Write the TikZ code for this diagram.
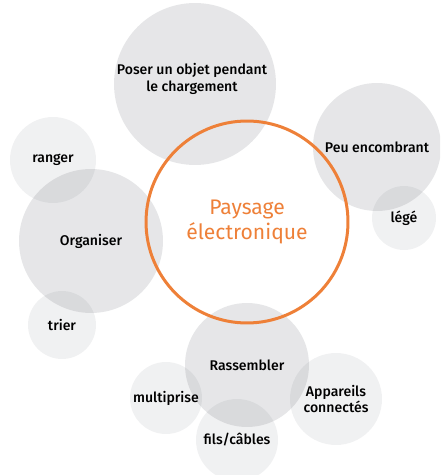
\documentclass[tikz,border=0pt]{standalone}
\usepackage{fontspec}
\setmainfont{Fira Sans}[BoldFont={Fira Sans Medium}]
\usepackage{xcolor}
\definecolor{bubble}{RGB}{60,64,78}
\definecolor{paysorange}{RGB}{238,128,56}

\tikzset{
    bigbubble/.style={circle,fill=bubble,fill opacity=0.13,text opacity=1,inner sep=0pt,align=center,font=\fontsize{8}{9.5}\selectfont\bfseries},
    smallbubble/.style={bigbubble,fill opacity=0.075},
}

\begin{document}
\begin{tikzpicture}[x=0.02cm,y=-0.02cm]
    \useasboundingbox (0,0) rectangle (440,475);
    \clip (0,0) rectangle (440,475);

    \node[bigbubble,minimum size=3.24cm] (poser) at (195,84) {};
    \node[bigbubble,minimum size=2.56cm] (peu) at (377,147) {Peu encombrant};
    \node[smallbubble,minimum size=1.28cm] (lege) at (404,218) {légé};
    \node[smallbubble,minimum size=1.72cm] (ranger) at (53,160) {ranger};
    \node[bigbubble,minimum size=2.88cm] (organiser) at (91,241) {Organiser};
    \node[smallbubble,minimum size=1.36cm] (trier) at (62,325) {trier};
    \node[bigbubble,minimum size=2.48cm] (rassembler) at (247,365) {Rassembler};
    \node[smallbubble,minimum size=1.44cm] (multiprise) at (166,398) {multiprise};
    \node[smallbubble,minimum size=1.84cm] (appareils) at (336,399) {Appareils\\connectés};
    \node[smallbubble,minimum size=1.64cm] (fils) at (237,440) {fils/câbles};
    \node[font=\fontsize{8}{9.5}\selectfont\bfseries,align=center] (posertext) at (192,79) {Poser un objet pendant\\le chargement};

    \node[circle,draw=paysorange,line width=0.06cm,minimum size=4.04cm,
        font=\fontsize{12}{13.7}\selectfont,text=paysorange,align=center] (paysage) at (247,222) {Paysage\\électronique};
\end{tikzpicture}
\end{document}
